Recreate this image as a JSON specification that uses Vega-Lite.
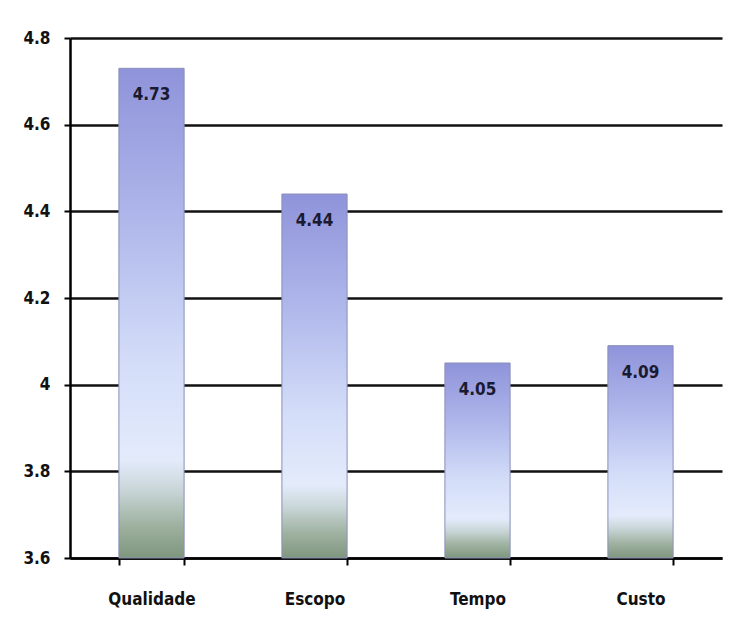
{
  "$schema": "https://vega.github.io/schema/vega-lite/v6.json",
  "width": 652,
  "height": 520,
  "autosize": "none",
  "padding": {"left": 70, "top": 38, "right": 10, "bottom": 71},
  "background": "white",
  "config": {
    "view": {"stroke": null},
    "font": "DejaVu Sans Condensed, Roboto Condensed, Open Sans, sans-serif"
  },
  "data": {
    "values": [
      {"categoria": "Qualidade", "valor": 4.73},
      {"categoria": "Escopo", "valor": 4.44},
      {"categoria": "Tempo", "valor": 4.05},
      {"categoria": "Custo", "valor": 4.09}
    ]
  },
  "encoding": {
    "x": {
      "field": "categoria",
      "type": "nominal",
      "sort": null,
      "scale": {"paddingInner": 0.6, "paddingOuter": 0.3},
      "axis": {
        "title": null,
        "labelAngle": 0,
        "labelFont": "DejaVu Sans Condensed, Roboto Condensed, Open Sans, sans-serif",
        "labelFontWeight": "bold",
        "labelFontSize": 17,
        "labelColor": "#111111",
        "labelPadding": 26,
        "tickBand": "extent",
        "tickSize": 7,
        "tickWidth": 2,
        "tickColor": "black",
        "domainColor": "black",
        "domainWidth": 2.5,
        "grid": false
      }
    },
    "y": {
      "field": "valor",
      "type": "quantitative",
      "scale": {"domain": [3.6, 4.8], "zero": false, "nice": false},
      "axis": {
        "title": null,
        "values": [3.6, 3.8, 4.0, 4.2, 4.4, 4.6, 4.8],
        "format": "~g",
        "labelFont": "DejaVu Sans Condensed, Roboto Condensed, Open Sans, sans-serif",
        "labelFontWeight": "bold",
        "labelFontSize": 17,
        "labelColor": "#111111",
        "labelPadding": 14,
        "tickSize": 6,
        "tickWidth": 2,
        "tickColor": "black",
        "domainColor": "black",
        "domainWidth": 2.5,
        "grid": true,
        "gridColor": "#111111",
        "gridWidth": 2.5,
        "gridOpacity": 1
      }
    }
  },
  "layer": [
    {
      "mark": {
        "type": "bar",
        "stroke": "#8a8fb8",
        "strokeWidth": 1,
        "color": {
          "gradient": "linear",
          "x1": 0, "y1": 0, "x2": 0, "y2": 1,
          "stops": [
            {"offset": 0, "color": "#8f93da"},
            {"offset": 0.3, "color": "#aeb6ea"},
            {"offset": 0.6, "color": "#d3ddf8"},
            {"offset": 0.8, "color": "#e3ebfb"},
            {"offset": 0.86, "color": "#c9d6d8"},
            {"offset": 0.93, "color": "#a0b3a2"},
            {"offset": 1, "color": "#7f967e"}
          ]
        }
      },
      "encoding": {
        "y2": {"datum": 3.6}
      }
    },
    {
      "mark": {
        "type": "text",
        "baseline": "top",
        "dy": 19,
        "font": "DejaVu Sans Condensed, Roboto Condensed, Open Sans, sans-serif",
        "fontWeight": "bold",
        "fontSize": 17,
        "color": "#1a1a30"
      },
      "encoding": {
        "text": {"field": "valor", "type": "quantitative", "format": ".2f"}
      }
    }
  ]
}
